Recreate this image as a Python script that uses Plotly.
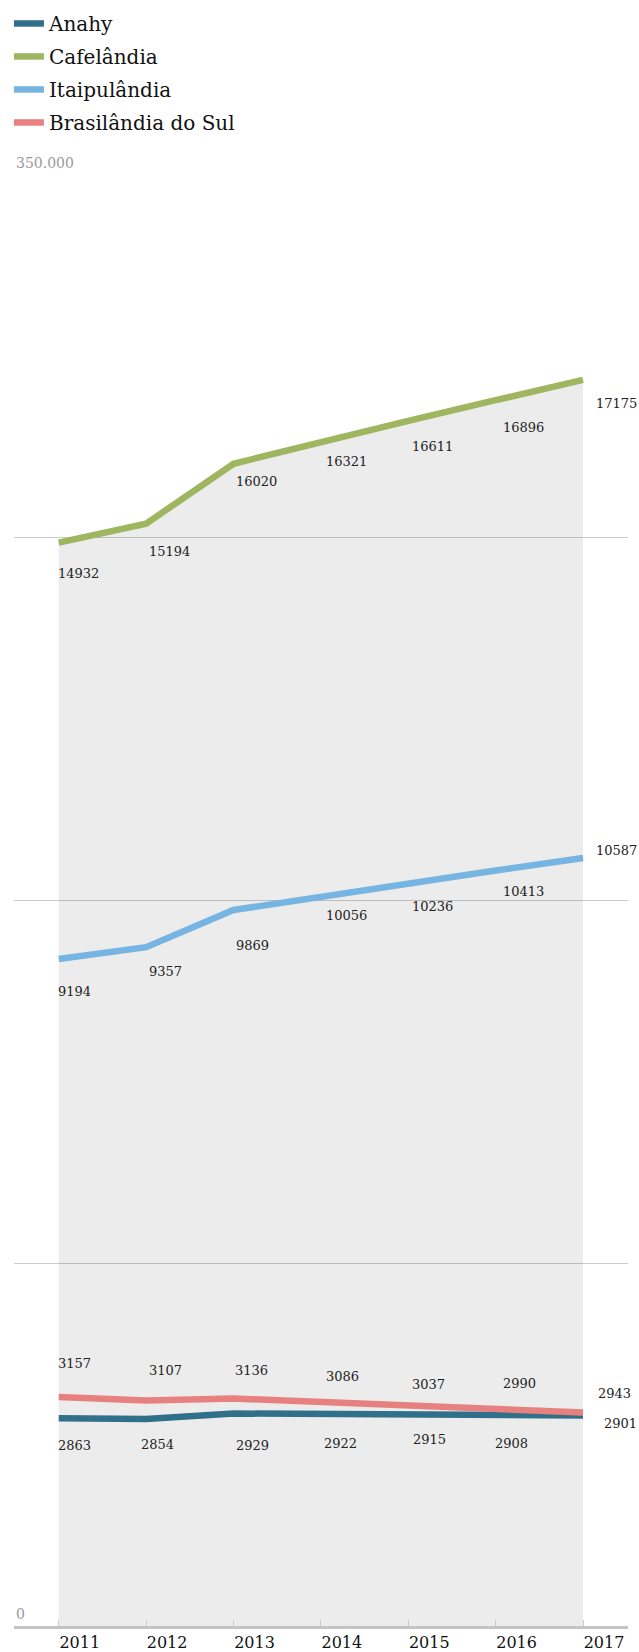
import plotly.graph_objects as go

years = [2011, 2012, 2013, 2014, 2015, 2016, 2017]
anahy = [2863, 2854, 2929, 2922, 2915, 2908, 2901]
cafelandia = [14932, 15194, 16020, 16321, 16611, 16896, 17175]
itaipulandia = [9194, 9357, 9869, 10056, 10236, 10413, 10587]
brasilandia = [3157, 3107, 3136, 3086, 3037, 2990, 2943]
series_names = ["Anahy", "Cafelândia", "Itaipulândia", "Brasilândia do Sul"]
y_tick_values = [0, 5000, 10000, 15000, 20000]
y_tick_labels = ["0", "", "", "", "350.000"]

# label offsets in pixels (style, not data): downward offset and horizontal shift
label_dy = {
    "Anahy": [27, 26, 32, 29.5, 25, 28, 8],
    "Cafelândia": [30.5, 28, 18, 20, 26, 27.6, 24],
    "Itaipulândia": [33, 24, 35, 19, 23.5, 21, -7],
    "Brasilândia do Sul": [-33, -29.6, -28, -26, -21.4, -26, -19],
}
label_dx = {
    "Anahy": [-3, -7, 1, 1, 3, -3, 19],
    "Cafelândia": [-3, 1, 1, 3, 2, 5, 11],
    "Itaipulândia": [-3, 1, 1, 3, 2, 5, 11],
    "Brasilândia do Sul": [-3, 1, 0, 3, 2, 5, 13],
}
colors = {
    "Anahy": "#30708a",
    "Cafelândia": "#9fb55f",
    "Itaipulândia": "#76b4e2",
    "Brasilândia do Sul": "#e7817f",
}
values = {
    "Anahy": anahy,
    "Cafelândia": cafelandia,
    "Itaipulândia": itaipulandia,
    "Brasilândia do Sul": brasilandia,
}

FONT = "DejaVu Serif"

fig = go.Figure()

# gray area under the top series
fig.add_trace(go.Scatter(
    x=years, y=cafelandia, mode="lines", fill="tozeroy",
    fillcolor="rgba(0,0,0,0.075)", line=dict(width=0, color="rgba(0,0,0,0)"),
    showlegend=False, hoverinfo="skip",
))

for i, name in enumerate(series_names):
    fig.add_trace(go.Scatter(
        x=years, y=values[name], mode="lines", name=name,
        legendgroup=name,
        line=dict(color=colors[name], width=6.5),
    ))

annotations = []
for name in series_names:
    for j, (xv, yv) in enumerate(zip(years, values[name])):
        annotations.append(dict(
            x=xv, y=yv, xref="x", yref="y", text=str(yv), showarrow=False,
            xanchor="left", yanchor="middle",
            xshift=label_dx[name][j], yshift=-label_dy[name][j],
            font=dict(family=FONT, size=13, color="#222222"),
        ))

# y-axis labels drawn just above their gridlines
for tv, tl in zip(y_tick_values, y_tick_labels):
    if tl:
        annotations.append(dict(
            x=0, y=tv, xref="paper", yref="y", text=tl, showarrow=False,
            xanchor="left", yanchor="bottom", xshift=0, yshift=2,
            font=dict(family=FONT, size=14, color="#999999"),
        ))

fig.update_layout(
    width=639, height=1652,
    margin=dict(l=14, r=11, t=175, b=26, autoexpand=False),
    paper_bgcolor="white", plot_bgcolor="white",
    showlegend=True,
    legend=dict(
        xref="container", yref="container", x=0.014, y=0.9976,
        xanchor="left", yanchor="top",
        font=dict(family=FONT, size=20, color="#111111"),
        tracegroupgap=4, bgcolor="rgba(0,0,0,0)",
    ),
    annotations=annotations,
    xaxis=dict(
        range=[2010.488, 2017.515], tickvals=years, ticktext=[str(y) for y in years],
        showgrid=False, zeroline=False, showline=True, linecolor="#c4c4c4", linewidth=2.5,
        ticks="inside", ticklen=6, tickcolor="#cccccc", tickwidth=1,
        ticklabelshift=21,
        tickfont=dict(family=FONT, size=16, color="#111111"),
    ),
    yaxis=dict(
        range=[0, 20000], tickvals=y_tick_values, showticklabels=False,
        showgrid=True, gridcolor="#cccccc", gridwidth=1, zeroline=False,
        showline=False, ticks="",
    ),
)

fig.write_html(
    "out.html",
    config={"displayModeBar": False},
    post_script="document.body.style.margin='0';document.body.style.overflow='hidden';",
)
